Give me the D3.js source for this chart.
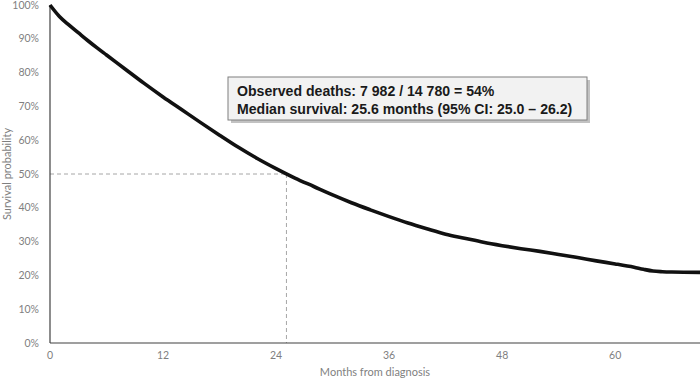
<!DOCTYPE html>
<html>
<head>
<meta charset="utf-8">
<script src="https://cdn.jsdelivr.net/npm/d3@7"></script>
<style>
  body { margin: 0; background: #fff; }
  svg { display: block; }
</style>
</head>
<body>
<div id="chart"></div>
<script>
// Kaplan-Meier estimate (months, survival %)
var months =   [0, 1, 2, 3, 4, 5, 6, 7, 8, 10, 12, 14, 16, 18, 20, 22, 24, 26, 28, 30, 32, 34, 36, 38, 40, 42, 44, 46, 48, 50, 52, 54, 56, 58, 60, 62, 63, 64, 65, 66, 69];
var survival = [100, 96.6, 94.1, 91.8, 89.5, 87.3, 85.2, 83.1, 81.0, 76.8, 72.8, 69.0, 65.2, 61.5, 57.9, 54.6, 51.6, 48.8, 46.3, 43.8, 41.5, 39.4, 37.4, 35.5, 33.8, 32.2, 31.0, 29.8, 28.8, 27.9, 27.1, 26.2, 25.3, 24.3, 23.4, 22.4, 21.8, 21.3, 21.1, 21.0, 20.9];

var xTicks = [0, 12, 24, 36, 48, 60];
var yTicks = [0, 10, 20, 30, 40, 50, 60, 70, 80, 90, 100];
var medianAt = 25.1;   // where the curve crosses 50% in the picture
var boxLines = [
  'Observed deaths: 7 982 / 14 780 = 54%',
  'Median survival: 25.6 months (95% CI: 25.0 \u2013 26.2)'
];

var width = 700, height = 380;
var margin = { top: 5, right: 0, bottom: 37, left: 50 };

var svg = d3.select('#chart').append('svg')
  .attr('width', width)
  .attr('height', height);

var x = d3.scaleLinear().domain([0, 69]).range([margin.left, width - margin.right]);
var y = d3.scaleLinear().domain([0, 100]).range([height - margin.bottom, margin.top]);

// y tick labels
svg.append('g')
  .selectAll('text')
  .data(yTicks)
  .enter().append('text')
  .attr('x', margin.left - 11)
  .attr('y', function (d) { return y(d); })
  .attr('dy', '0.35em')
  .attr('text-anchor', 'end')
  .attr('font-family', 'Lato, sans-serif')
  .attr('font-size', 10.5)
  .attr('fill', '#7f7f7f')
  .text(function (d) { return d + '%'; });

// x tick labels
svg.append('g')
  .selectAll('text')
  .data(xTicks)
  .enter().append('text')
  .attr('x', function (d) { return x(d); })
  .attr('y', y(0) + 16)
  .attr('text-anchor', 'middle')
  .attr('font-family', 'Lato, sans-serif')
  .attr('font-size', 10.5)
  .attr('fill', '#7f7f7f')
  .text(function (d) { return d; });

// axis titles
svg.append('text')
  .attr('x', (margin.left + width - margin.right) / 2)
  .attr('y', y(0) + 33)
  .attr('text-anchor', 'middle')
  .attr('font-family', 'Lato, sans-serif')
  .attr('font-size', 11)
  .attr('fill', '#7f7f7f')
  .text('Months from diagnosis');

svg.append('text')
  .attr('transform', 'translate(11,' + ((y(0) + y(100)) / 2) + ') rotate(-90)')
  .attr('text-anchor', 'middle')
  .attr('font-family', 'Lato, sans-serif')
  .attr('font-size', 11)
  .attr('fill', '#7f7f7f')
  .text('Survival probability');

// median guide lines
svg.append('line')
  .attr('x1', x(0)).attr('x2', x(medianAt))
  .attr('y1', y(50)).attr('y2', y(50))
  .attr('stroke', '#a6a6a6').attr('stroke-width', 1)
  .attr('stroke-dasharray', '4,3');
svg.append('line')
  .attr('x1', x(medianAt)).attr('x2', x(medianAt))
  .attr('y1', y(50)).attr('y2', y(0))
  .attr('stroke', '#a6a6a6').attr('stroke-width', 1)
  .attr('stroke-dasharray', '4,3');

// axes lines
svg.append('line')
  .attr('x1', x(0)).attr('x2', x(0))
  .attr('y1', y(0)).attr('y2', y(100))
  .attr('stroke', '#404040').attr('stroke-width', 1.2);
svg.append('line')
  .attr('x1', x(0)).attr('x2', width)
  .attr('y1', y(0)).attr('y2', y(0))
  .attr('stroke', '#404040').attr('stroke-width', 1.2);

// survival curve
var pts = months.map(function (m, i) { return [m, survival[i]]; });
var line = d3.line()
  .x(function (d) { return x(d[0]); })
  .y(function (d) { return y(d[1]); })
  .curve(d3.curveMonotoneX);

svg.append('path')
  .datum(pts)
  .attr('d', line)
  .attr('fill', 'none')
  .attr('stroke', '#111')
  .attr('stroke-width', 3.6)
  .attr('stroke-linejoin', 'round');

// annotation box with shadow
var bx = 228, by = 77, bw = 359, bh = 43;
svg.append('rect')
  .attr('x', bx + 3).attr('y', by + 3)
  .attr('width', bw).attr('height', bh)
  .attr('fill', '#9a9a9a').attr('opacity', 0.6);
svg.append('rect')
  .attr('x', bx).attr('y', by)
  .attr('width', bw).attr('height', bh)
  .attr('fill', '#f2f2f2')
  .attr('stroke', '#7f7f7f').attr('stroke-width', 1);

svg.append('g')
  .selectAll('text')
  .data(boxLines)
  .enter().append('text')
  .attr('x', bx + 9)
  .attr('y', function (d, i) { return by + 19 + i * 18; })
  .attr('font-family', '"Liberation Sans", Arial, sans-serif')
  .attr('font-weight', 'bold')
  .attr('font-size', 14.1)
  .attr('fill', '#1a1a1a')
  .text(function (d) { return d; });
</script>
</body>
</html>
